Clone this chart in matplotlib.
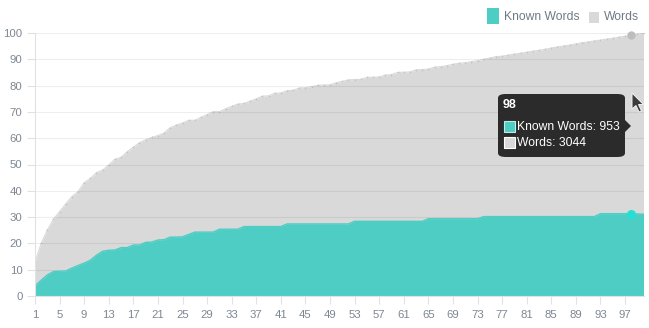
import matplotlib
matplotlib.use("Agg")
import matplotlib.pyplot as plt
from matplotlib.patches import FancyBboxPatch, Rectangle, Polygon

# ---- data -----------------------------------------------------------------
chapters = list(range(1, 101))

words_pct = [
    12.8, 20.0, 25.1, 29.2, 32.1, 35.0, 37.8, 39.7, 43.1, 44.7,
    46.9, 47.9, 49.8, 52.0, 52.7, 54.9, 56.6, 58.3, 59.4, 60.3,
    61.0, 62.0, 64.0, 65.0, 65.8, 66.8, 66.8, 67.9, 69.0, 70.1,
    70.1, 71.2, 72.1, 73.0, 73.2, 74.1, 75.0, 76.0, 76.1, 77.1,
    77.2, 78.1, 78.2, 79.1, 79.2, 79.6, 80.1, 80.2, 80.3, 81.1,
    81.6, 82.2, 82.3, 82.4, 83.1, 83.2, 83.3, 84.0, 84.2, 85.0,
    85.1, 85.2, 86.0, 86.1, 86.3, 87.0, 87.2, 87.6, 88.1, 88.5,
    88.7, 89.1, 89.5, 90.0, 90.5, 91.0, 91.2, 91.6, 92.0, 92.3,
    92.7, 93.1, 93.4, 93.8, 94.3, 94.7, 95.1, 95.4, 95.9, 96.3,
    96.6, 97.0, 97.3, 97.7, 98.0, 98.4, 98.8, 99.1, 99.5, 100.0,
]

known_pct = [
    3.9, 6.0, 8.0, 9.3, 9.4, 9.5, 10.6, 11.6, 12.5, 13.6,
    15.5, 17.0, 17.4, 17.5, 18.4, 18.4, 19.4, 19.4, 20.4, 20.5,
    21.3, 21.4, 22.4, 22.4, 22.5, 23.4, 24.3, 24.3, 24.3, 24.3,
    25.4, 25.4, 25.4, 25.4, 26.4, 26.4, 26.4, 26.4, 26.4, 26.4,
    26.4, 27.4, 27.4, 27.4, 27.4, 27.4, 27.4, 27.4, 27.4, 27.4,
    27.4, 27.4, 28.4, 28.4, 28.4, 28.4, 28.4, 28.4, 28.4, 28.4,
    28.4, 28.4, 28.4, 28.4, 29.4, 29.4, 29.4, 29.4, 29.4, 29.4,
    29.4, 29.4, 29.4, 30.2, 30.2, 30.2, 30.2, 30.2, 30.2, 30.2,
    30.2, 30.2, 30.2, 30.2, 30.2, 30.2, 30.2, 30.2, 30.2, 30.2,
    30.2, 30.2, 31.3, 31.3, 31.3, 31.3, 31.3, 31.3, 31.2, 31.1,
]

x_tick_labels = list(range(1, 101, 4))
y_ticks = list(range(0, 101, 10))

series_names = ["Known Words", "Words"]
hover_chapter = 98
hover_known_count = 953
hover_words_count = 3044

# ---- style ----------------------------------------------------------------
TEAL = "#4ecdc4"
TEAL_HOVER = "#22e0d6"
GRAY = "#d9d9d9"
TICK_COLOR = "#7d8792"
FONT = "Liberation Sans"

W, H = 649, 328
fig = plt.figure(figsize=(W / 100, H / 100), dpi=100)
plt.rcParams["font.family"] = [FONT, "DejaVu Sans"]


def fx(px):
    return px / W


def fy(py):
    return 1 - py / H


left_px, right_px, top_px, bottom_px = 35, 643.5, 33, 296
ax = fig.add_axes([fx(left_px), fy(bottom_px),
                   (right_px - left_px) / W, (bottom_px - top_px) / H])
ax.set_xlim(1, 100)
ax.set_ylim(0, 100)

# filled areas
ax.fill_between(chapters, words_pct, 0, color=GRAY, linewidth=0, zorder=1)
ax.plot(chapters, words_pct, color=GRAY, linewidth=0.8, zorder=1.2)
ax.plot(chapters, words_pct, linestyle="none", marker="o", markersize=1.2,
        markeredgewidth=0, color="#c4c4c4", zorder=1.3)
for yv in y_ticks:
    ax.axhline(yv, color=(0, 0, 0, 0.065), linewidth=0.8, zorder=1.5)
ax.fill_between(chapters, known_pct, 0, color=TEAL, linewidth=0, zorder=2)
ax.plot(chapters, known_pct, color=TEAL, linewidth=1.0, zorder=2.1)

# hovered points
hi = chapters.index(hover_chapter)
ax.plot([hover_chapter], [words_pct[hi]], marker="o", markersize=6.0,
        markeredgewidth=0, color="#bdbdbd", zorder=3, clip_on=False)
ax.plot([hover_chapter], [known_pct[hi]], marker="o", markersize=6.5,
        markeredgewidth=0, color=TEAL_HOVER, zorder=3, clip_on=False)

# axes
for s in ["top", "right"]:
    ax.spines[s].set_visible(False)
ax.spines["left"].set_color("#e2e2e2")
ax.spines["bottom"].set_color("#e2e2e2")
ax.spines["left"].set_linewidth(0.8)
ax.spines["bottom"].set_linewidth(0.8)
ax.spines["left"].set_zorder(2.5)

ax.set_xticks(x_tick_labels)
ax.set_xticklabels([str(v) for v in x_tick_labels])
ax.set_yticks(y_ticks)
ax.set_yticklabels([str(v) for v in y_ticks])
ax.tick_params(axis="both", colors="#e2e2e2", labelcolor=TICK_COLOR,
               labelsize=8.2, length=6, width=0.8)
ax.tick_params(axis="y", pad=3)
ax.tick_params(axis="x", pad=4)
for lab in ax.get_xticklabels() + ax.get_yticklabels():
    lab.set_fontfamily(FONT)

# legend
fig.patches.append(Rectangle((fx(487), fy(24)), 12 / W, 16 / H,
                             transform=fig.transFigure, facecolor=TEAL,
                             edgecolor="none"))
fig.text(fx(504), fy(16.5), series_names[0], fontsize=8.7, color="#6f7a86",
         va="center", ha="left", family=FONT)
fig.patches.append(Rectangle((fx(589), fy(23)), 10 / W, 11 / H,
                             transform=fig.transFigure, facecolor=GRAY,
                             edgecolor="none"))
fig.text(fx(604), fy(16.5), series_names[1], fontsize=8.7, color="#6f7a86",
         va="center", ha="left", family=FONT)

# tooltip
tip_l, tip_r, tip_t, tip_b = 498, 625, 94, 157
fig.patches.append(FancyBboxPatch((fx(tip_l), fy(tip_b)),
                                  (tip_r - tip_l) / W, (tip_b - tip_t) / H,
                                  boxstyle="round,pad=0,rounding_size=0.012",
                                  transform=fig.transFigure,
                                  facecolor="#2b2b2b", edgecolor="none",
                                  zorder=5))
fig.patches.append(Polygon([(fx(625), fy(120)), (fx(631), fy(126)),
                            (fx(625), fy(132))], closed=True,
                           transform=fig.transFigure, facecolor="#2b2b2b",
                           edgecolor="none", zorder=5))
fig.text(fx(503), fy(105), str(hover_chapter), fontsize=9,
         fontweight="bold", color="white", va="center", ha="left",
         family=FONT, zorder=6)
fig.patches.append(Rectangle((fx(504), fy(132)), 11 / W, 11 / H,
                             transform=fig.transFigure, facecolor=TEAL,
                             edgecolor="#bfeeea", linewidth=0.8, zorder=6))
fig.text(fx(517), fy(126.5), f"{series_names[0]}: {hover_known_count}",
         fontsize=8.7, color="white", va="center", ha="left", family=FONT,
         zorder=6)
fig.patches.append(Rectangle((fx(504), fy(148)), 11 / W, 11 / H,
                             transform=fig.transFigure, facecolor=GRAY,
                             edgecolor="white", linewidth=0.8, zorder=6))
fig.text(fx(517), fy(142.5), f"{series_names[1]}: {hover_words_count}",
         fontsize=8.7, color="white", va="center", ha="left", family=FONT,
         zorder=6)

# mouse pointer
cursor = [(632, 93), (632, 109), (636, 105.5), (639, 112), (641.5, 111),
          (638.5, 104.5), (643.5, 104.5)]
fig.patches.append(Polygon([(fx(a), fy(b)) for a, b in cursor], closed=True,
                           transform=fig.transFigure, facecolor="#3c3c3c",
                           edgecolor="#f2f2f2", linewidth=0.7, zorder=7))

fig.savefig("out.png", dpi=100, facecolor="white")
